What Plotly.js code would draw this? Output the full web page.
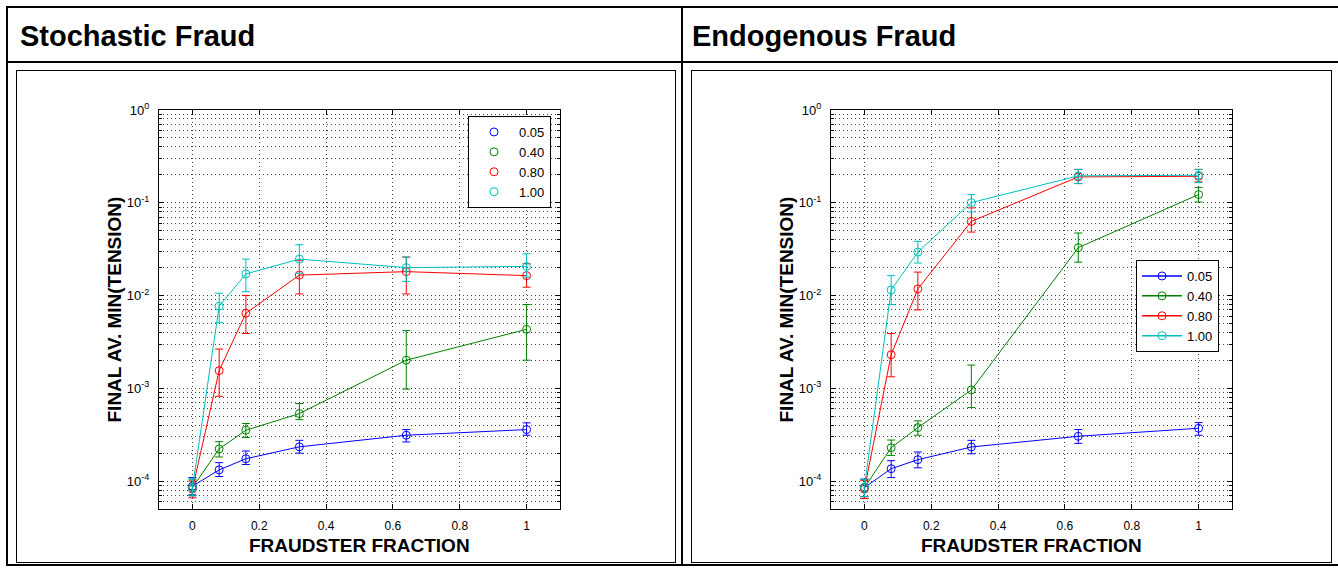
<!DOCTYPE html>
<html><head><meta charset="utf-8">
<script src="https://cdn.plot.ly/plotly-3.0.1.min.js"></script>
<style>
html,body{margin:0;padding:0;width:1338px;height:570px;overflow:hidden;background:#fff;font-family:"Liberation Sans",Arial,sans-serif;}
.ln{position:absolute;background:#000;}
.box{position:absolute;border:1px solid #000;box-sizing:border-box;}
.hdr{position:absolute;font-weight:bold;font-size:29px;line-height:29px;color:#000;white-space:nowrap;}
#chart{position:absolute;left:0;top:0;width:1338px;height:570px;}
</style></head><body>
<div class="ln" style="left:6px;top:6px;width:1400px;height:2px"></div>
<div class="ln" style="left:6px;top:61px;width:1400px;height:2px"></div>
<div class="ln" style="left:6px;top:564px;width:1400px;height:2px"></div>
<div class="ln" style="left:6px;top:6px;width:2px;height:560px"></div>
<div class="ln" style="left:681px;top:6px;width:2px;height:560px"></div>
<div class="box" style="left:16px;top:70px;width:660px;height:493px"></div>
<div class="box" style="left:691px;top:70px;width:641px;height:493px"></div>
<div class="hdr" style="left:20px;top:22px">Stochastic Fraud</div>
<div class="hdr" style="left:692px;top:22px">Endogenous Fraud</div>
<div id="chart"></div>
<script>
// ---------- data ----------
const fraction = [0, 0.08, 0.16, 0.32, 0.64, 1.0];
const seriesNames = ['0.05', '0.40', '0.80', '1.00'];
const seriesColors = ['#0000ff', '#008000', '#ff0000', '#00bfbf'];

// Stochastic fraud
const stoch_005 = [8.8e-5, 1.32e-4, 1.74e-4, 2.34e-4, 3.12e-4, 3.59e-4];
const stoch_005_hi = [1.09e-4, 1.58e-4, 2.11e-4, 2.75e-4, 3.59e-4, 4.24e-4];
const stoch_005_lo = [7.1e-5, 1.12e-4, 1.51e-4, 2.0e-4, 2.64e-4, 3.12e-4];
const stoch_040 = [8.5e-5, 2.22e-4, 3.53e-4, 5.34e-4, 2.01e-3, 4.32e-3];
const stoch_040_hi = [1.03e-4, 2.66e-4, 4.17e-4, 6.86e-4, 4.19e-3, 8.0e-3];
const stoch_040_lo = [7.0e-5, 1.82e-4, 2.95e-4, 4.6e-4, 9.8e-4, 2.01e-3];
const stoch_080 = [8.2e-5, 1.55e-3, 6.44e-3, 1.66e-2, 1.81e-2, 1.64e-2];
const stoch_080_hi = [1.0e-4, 2.65e-3, 1.0e-2, 2.4e-2, 2.6e-2, 2.2e-2];
const stoch_080_lo = [6.6e-5, 8.2e-4, 3.9e-3, 1.04e-2, 1.04e-2, 1.23e-2];
const stoch_100 = [8.4e-5, 7.67e-3, 1.71e-2, 2.47e-2, 2.0e-2, 2.06e-2];
const stoch_100_hi = [1.06e-4, 1.06e-2, 2.47e-2, 3.53e-2, 2.6e-2, 2.82e-2];
const stoch_100_lo = [6.9e-5, 5.1e-3, 1.1e-2, 1.74e-2, 1.42e-2, 1.58e-2];

// Endogenous fraud
const endo_005 = [8.5e-5, 1.36e-4, 1.70e-4, 2.33e-4, 3.04e-4, 3.71e-4];
const endo_005_hi = [1.05e-4, 1.66e-4, 2.06e-4, 2.75e-4, 3.6e-4, 4.27e-4];
const endo_005_lo = [6.8e-5, 1.09e-4, 1.39e-4, 1.97e-4, 2.55e-4, 3.12e-4];
const endo_040 = [8.5e-5, 2.29e-4, 3.77e-4, 9.6e-4, 3.28e-2, 1.226e-1];
const endo_040_hi = [1.03e-4, 2.77e-4, 4.46e-4, 1.78e-3, 4.72e-2, 1.46e-1];
const endo_040_lo = [6.5e-5, 1.89e-4, 3.12e-4, 6.2e-4, 2.29e-2, 1.02e-1];
const endo_080 = [8.2e-5, 2.3e-3, 1.18e-2, 6.3e-2, 1.90e-1, 1.93e-1];
const endo_080_hi = [1.02e-4, 3.9e-3, 1.79e-2, 8.8e-2, 2.29e-1, 2.29e-1];
const endo_080_lo = [6.5e-5, 1.33e-3, 7.0e-3, 4.83e-2, 1.61e-1, 1.68e-1];
const endo_100 = [8.6e-5, 1.15e-2, 2.94e-2, 1.005e-1, 1.95e-1, 1.98e-1];
const endo_100_hi = [1.05e-4, 1.64e-2, 3.84e-2, 1.226e-1, 2.29e-1, 2.29e-1];
const endo_100_lo = [6.8e-5, 8.0e-3, 2.24e-2, 7.96e-2, 1.61e-1, 1.65e-1];

const xTickVals = [0, 0.2, 0.4, 0.6, 0.8, 1];
const xTickText = ['0', '0.2', '0.4', '0.6', '0.8', '1'];
const yTickVals = [1e-4, 1e-3, 1e-2, 1e-1, 1];
const yTickText = ['10<sup>-4</sup>', '10<sup>-3</sup>', '10<sup>-2</sup>', '10<sup>-1</sup>', '10<sup>0</sup>'];
const xTitle = 'FRAUDSTER FRACTION';
const yTitle = 'FINAL AV. MIN(TENSION)';

// ---------- build ----------
const W = 1338, H = 570;
const px = x => x / W, py = y => 1 - y / H;
const FONT = 'Liberation Sans, Arial, Helvetica, sans-serif';

const yMinor = [];
for (let e = -5; e < 0; e++) for (let k = 2; k <= 9; k++) {
  const v = k * Math.pow(10, e);
  if (v >= 5e-5) yMinor.push(v);
}

const panels = [
  {xa: 'x', ya: 'y', leg: 'legend', lmode: 'markers',
   means: [stoch_005, stoch_040, stoch_080, stoch_100],
   his: [stoch_005_hi, stoch_040_hi, stoch_080_hi, stoch_100_hi],
   los: [stoch_005_lo, stoch_040_lo, stoch_080_lo, stoch_100_lo]},
  {xa: 'x2', ya: 'y2', leg: 'legend2', lmode: 'lines+markers',
   means: [endo_005, endo_040, endo_080, endo_100],
   his: [endo_005_hi, endo_040_hi, endo_080_hi, endo_100_hi],
   los: [endo_005_lo, endo_040_lo, endo_080_lo, endo_100_lo]}
];

const traces = [];
panels.forEach(p => {
  p.means.forEach((m, i) => {
    traces.push({
      x: fraction, y: m, xaxis: p.xa, yaxis: p.ya, mode: 'lines+markers',
      showlegend: false, hoverinfo: 'skip',
      line: {color: seriesColors[i], width: 1},
      marker: {symbol: 'circle-open', size: 8, color: seriesColors[i], line: {width: 1, color: seriesColors[i]}},
      error_y: {type: 'data', symmetric: false,
        array: m.map((v, j) => p.his[i][j] - v),
        arrayminus: m.map((v, j) => v - p.los[i][j]),
        color: seriesColors[i], thickness: 1, width: 4}
    });
  });
  seriesNames.forEach((n, i) => {
    traces.push({
      x: [null], y: [null], xaxis: p.xa, yaxis: p.ya, mode: p.lmode, name: n,
      legend: p.leg, showlegend: true,
      line: {color: seriesColors[i], width: 1.5},
      marker: {symbol: 'circle-open', size: 8, color: seriesColors[i], line: {width: 1, color: seriesColors[i]}}
    });
  });
});

const gridDash = '1px,3px';
const gridColor = '#444';
function xAxis(l, r, anchor) {
  return {domain: [px(l), px(r)], anchor: anchor, range: [-0.1, 1.1], fixedrange: true,
    tickmode: 'array', tickvals: xTickVals, ticktext: xTickText,
    ticks: 'inside', ticklen: 5, tickcolor: '#000', tickwidth: 1,
    showline: true, linecolor: '#000', linewidth: 1, mirror: 'ticks',
    showgrid: true, gridcolor: gridColor, griddash: gridDash, gridwidth: 1,
    zeroline: false, ticklabelstandoff: 6, tickfont: {size: 12, color: '#000'}};
}
function yAxis(anchor) {
  return {domain: [py(509), py(110)], anchor: anchor, type: 'log', fixedrange: true,
    range: [Math.log10(5e-5), 0],
    tickmode: 'array', tickvals: yTickVals, ticktext: yTickText,
    ticks: 'inside', ticklen: 5, tickcolor: '#000', tickwidth: 1,
    showline: true, linecolor: '#000', linewidth: 1, mirror: 'ticks',
    showgrid: true, gridcolor: gridColor, griddash: gridDash, gridwidth: 1,
    minor: {tickmode: 'array', tickvals: yMinor, ticks: 'inside', ticklen: 3, tickcolor: '#000',
      showgrid: true, gridcolor: gridColor, griddash: gridDash, gridwidth: 1},
    zeroline: false, ticklabelstandoff: 6, tickfont: {size: 13, color: '#000'}};
}
function legendCfg(x, y) {
  return {x: px(x), y: py(y), xref: 'paper', yref: 'paper', xanchor: 'left', yanchor: 'top',
    bgcolor: '#fff', bordercolor: '#000', borderwidth: 1,
    font: {size: 13, color: '#000', family: FONT}, itemwidth: 40, tracegroupgap: 0};
}
function titleAnn(text, x, y, angle) {
  return {text: text, xref: 'paper', yref: 'paper', x: px(x), y: py(y), showarrow: false,
    xanchor: 'center', yanchor: 'middle', textangle: angle,
    font: {size: 19, family: FONT, color: '#000', weight: 'bold'}};
}

const layout = {
  width: W, height: H, margin: {l: 0, r: 0, t: 0, b: 0},
  paper_bgcolor: 'rgba(0,0,0,0)', plot_bgcolor: '#fff',
  font: {family: FONT, size: 12, color: '#000'},
  xaxis: xAxis(159, 560, 'y'), yaxis: yAxis('x'),
  xaxis2: xAxis(831, 1232, 'y2'), yaxis2: yAxis('x2'),
  legend: legendCfg(468, 116), legend2: legendCfg(1136, 260),
  annotations: [
    titleAnn(xTitle, 359.5, 545, 0), titleAnn(yTitle, 114, 309.5, -90),
    titleAnn(xTitle, 1031.5, 545, 0), titleAnn(yTitle, 786, 309.5, -90)
  ],
  showlegend: true
};

Plotly.newPlot('chart', traces, layout, {displayModeBar: false, staticPlot: true});
</script>
</body></html>
